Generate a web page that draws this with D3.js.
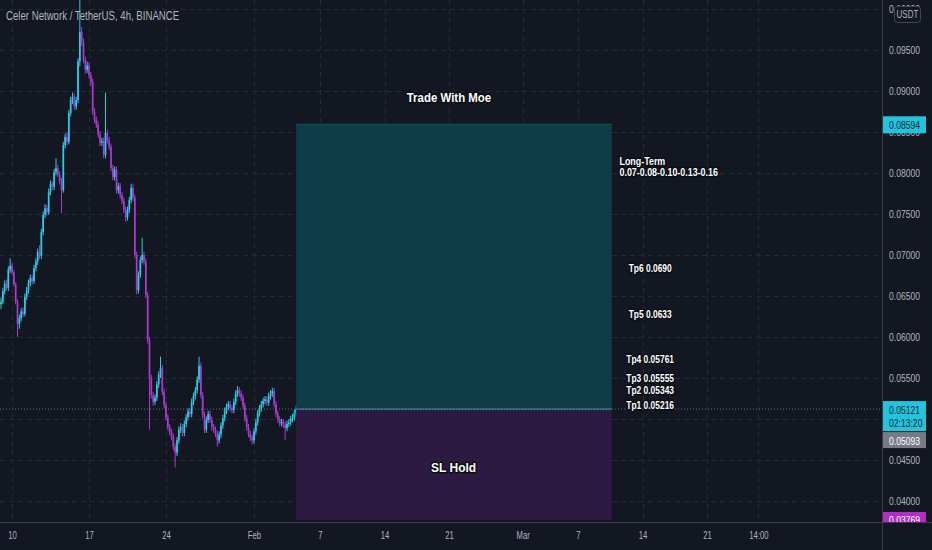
<!DOCTYPE html>
<html>
<head>
<meta charset="utf-8">
<script src="https://cdn.jsdelivr.net/npm/d3@7"></script>
<style>
  body { margin: 0; background: #131722; }
  svg { display: block; }
  text { font-family: "Liberation Sans", Arial, sans-serif; }
</style>
</head>
<body>
<svg id="chart"></svg>
<script>
// chart data (4h candles, open = previous close)
const firstOpen = 0.0640;
const closes = [
  0.0643,0.0656,0.0665,0.0660,0.0682,0.0687,0.0679,0.0664,0.0643,0.0616,
  0.0623,0.0631,0.0628,0.0649,0.0657,0.0666,0.0672,0.0668,0.0684,0.0692,
  0.0704,0.0699,0.0728,0.0749,0.0757,0.0752,0.0777,0.0787,0.0783,0.0801,
  0.0806,0.0798,0.0790,0.0779,0.0834,0.0844,0.0838,0.0873,0.0889,0.0893,
  0.0881,0.0889,0.0936,0.0972,0.0960,0.0938,0.0926,0.0931,0.0919,0.0911,
  0.0875,0.0865,0.0859,0.0847,0.0837,0.0839,0.0822,0.0849,0.0840,0.0832,
  0.0806,0.0795,0.0804,0.0779,0.0784,0.0773,0.0766,0.0755,0.0746,0.0755,
  0.0767,0.0782,0.0770,0.0700,0.0657,0.0676,0.0694,0.0700,0.0692,0.0651,
  0.0596,0.0550,0.0529,0.0521,0.0526,0.0542,0.0554,0.0562,0.0533,0.0517,
  0.0502,0.0490,0.0484,0.0478,0.0466,0.0459,0.0474,0.0487,0.0490,0.0483,
  0.0494,0.0502,0.0509,0.0506,0.0521,0.0528,0.0535,0.0548,0.0565,0.0529,
  0.0505,0.0487,0.0499,0.0506,0.0499,0.0490,0.0487,0.0482,0.0474,0.0481,
  0.0492,0.0501,0.0510,0.0515,0.0518,0.0513,0.0511,0.0521,0.0531,0.0535,
  0.0531,0.0526,0.0516,0.0501,0.0490,0.0482,0.0477,0.0474,0.0485,0.0496,
  0.0507,0.0513,0.0518,0.0522,0.0524,0.0520,0.0528,0.0531,0.0534,0.0518,
  0.0506,0.0499,0.0495,0.0496,0.0493,0.0489,0.0494,0.0496,0.0500,0.0502,
  0.0507,0.05121
];
const highs = [
  0.0648,0.0660,0.0669,0.0670,0.0686,0.0696,0.0690,0.0682,0.0667,0.0646,
  0.0627,0.0635,0.0636,0.0653,0.0661,0.0670,0.0676,0.0676,0.0688,0.0696,
  0.0708,0.0712,0.0732,0.0753,0.0762,0.0761,0.0781,0.0791,0.0790,0.0805,
  0.0818,0.0810,0.0802,0.0794,0.0838,0.0848,0.0850,0.0877,0.0893,0.0898,
  0.0897,0.0893,0.0940,0.1011,0.0978,0.0964,0.0942,0.0936,0.0935,0.0923,
  0.0915,0.0879,0.0869,0.0863,0.0851,0.0843,0.0843,0.0898,0.0853,0.0844,
  0.0836,0.0810,0.0808,0.0808,0.0788,0.0788,0.0777,0.0770,0.0759,0.0759,
  0.0771,0.0787,0.0786,0.0774,0.0704,0.0680,0.0698,0.0721,0.0704,0.0696,
  0.0655,0.0600,0.0554,0.0533,0.0530,0.0546,0.0558,0.0576,0.0566,0.0537,
  0.0521,0.0506,0.0494,0.0488,0.0482,0.0470,0.0478,0.0491,0.0495,0.0494,
  0.0498,0.0506,0.0513,0.0513,0.0525,0.0532,0.0539,0.0552,0.0576,0.0569,
  0.0533,0.0509,0.0503,0.0510,0.0510,0.0503,0.0494,0.0491,0.0486,0.0485,
  0.0496,0.0505,0.0514,0.0519,0.0522,0.0522,0.0517,0.0525,0.0535,0.0540,
  0.0539,0.0535,0.0530,0.0520,0.0505,0.0494,0.0486,0.0481,0.0489,0.0500,
  0.0511,0.0517,0.0522,0.0526,0.0528,0.0528,0.0532,0.0535,0.0538,0.0538,
  0.0522,0.0510,0.0503,0.0500,0.0500,0.0497,0.0498,0.0500,0.0504,0.0506,
  0.0511,0.0516
];
const lows = [
  0.0634,0.0640,0.0652,0.0657,0.0656,0.0678,0.0676,0.0661,0.0640,0.0600,
  0.0610,0.0619,0.0624,0.0625,0.0645,0.0653,0.0662,0.0664,0.0665,0.0680,
  0.0688,0.0695,0.0695,0.0724,0.0745,0.0748,0.0749,0.0773,0.0779,0.0779,
  0.0797,0.0795,0.0786,0.0751,0.0776,0.0830,0.0834,0.0835,0.0869,0.0884,
  0.0877,0.0877,0.0885,0.0930,0.0955,0.0934,0.0921,0.0922,0.0915,0.0906,
  0.0871,0.0861,0.0855,0.0843,0.0833,0.0833,0.0818,0.0818,0.0836,0.0828,
  0.0802,0.0791,0.0791,0.0775,0.0775,0.0769,0.0762,0.0751,0.0741,0.0742,
  0.0751,0.0763,0.0766,0.0696,0.0652,0.0653,0.0672,0.0690,0.0688,0.0647,
  0.0592,0.0487,0.0525,0.0516,0.0517,0.0522,0.0538,0.0550,0.0529,0.0513,
  0.0498,0.0486,0.0480,0.0474,0.0462,0.0441,0.0455,0.0470,0.0483,0.0479,
  0.0479,0.0490,0.0498,0.0502,0.0502,0.0517,0.0524,0.0531,0.0544,0.0525,
  0.0501,0.0483,0.0483,0.0495,0.0495,0.0486,0.0483,0.0478,0.0466,0.0470,
  0.0477,0.0488,0.0497,0.0506,0.0511,0.0509,0.0507,0.0507,0.0517,0.0527,
  0.0527,0.0522,0.0512,0.0497,0.0486,0.0478,0.0473,0.0469,0.0470,0.0481,
  0.0492,0.0503,0.0509,0.0514,0.0518,0.0516,0.0516,0.0524,0.0527,0.0514,
  0.0502,0.0495,0.0491,0.0491,0.0489,0.0474,0.0485,0.0490,0.0492,0.0496,
  0.0498,0.0503
];
const firstBar = new Date(2022, 0, 9, 0);
const barHours = 4;

// axis ticks
const priceTicks = [0.040,0.045,0.050,0.055,0.060,0.065,0.070,0.075,0.080,0.085,0.090,0.095,0.100];
const hiddenTicks = [0.050]; // sits under the last price tag
const dateTicks = [
  new Date(2022,0,10), new Date(2022,0,17), new Date(2022,0,24), new Date(2022,1,1),
  new Date(2022,1,7), new Date(2022,1,14), new Date(2022,1,21), new Date(2022,2,1),
  new Date(2022,2,7), new Date(2022,2,14), new Date(2022,2,21), new Date(2022,2,26,14)
];
const dateLabels = ["10","17","24","Feb","7","14","21","Mar","7","14","21","14:00"];

// long position tool
const entryPrice = 0.05121;
const targetPrice = 0.08594;
const stopPrice = 0.03769;
const positionEnd = new Date(2022, 2, 10, 16);
const lastBarCountdown = "02:13:20";
const markedPrice = 0.05093;

// text notes
const tpNames = ["Tp6 0.0690","Tp5 0.0633","Tp4 0.05761","Tp3 0.05555","Tp2 0.05343","Tp1 0.05216"];
const tpAnchors = [0.0684, 0.0628, 0.0572, 0.0549, 0.0535, 0.0517];
const tpDate = new Date(2022, 2, 14, 20);
const longTerm = ["Long-Term", "0.07-0.08-0.10-0.13-0.16"];
const longTermAnchor = [new Date(2022, 2, 11, 12), 0.0814];
const titleNote = ["Trade With Moe", new Date(2022, 1, 21, 0), 0.0892];
const slNote = ["SL Hold", new Date(2022, 1, 21, 12), 0.0441];

// layout
const W = 932, H = 550;
const plotW = 882, plotH = 522;
const bg = "#131722", upColor = "#29cde4", downColor = "#a93bcc", textColor = "#b2b5be";
const fmt = d3.format(".5f");

// horizontally narrow a text, the chart's own font is a condensed one
function squeeze(sel, f) {
  sel.each(function () {
    const w = this.getComputedTextLength();
    d3.select(this).attr("textLength", w * f).attr("lengthAdjust", "spacingAndGlyphs");
  });
  return sel;
}

const svg = d3.select("#chart").attr("width", W).attr("height", H);
svg.append("rect").attr("width", W).attr("height", H).attr("fill", bg);

// scales: time is compressed differently before/after the last candle, as on the picture
const x = d3.scaleTime()
  .domain([dateTicks[0], dateTicks[4], dateTicks[10]])
  .range([12, 320, 707]);
const y = d3.scaleLinear()
  .domain([0.05, 0.095])
  .range([419, 50]);

const candles = closes.map((c, i) => ({
  t: d3.timeHour.offset(firstBar, i * barHours),
  o: i === 0 ? firstOpen : closes[i - 1],
  h: highs[i], l: lows[i], c: c
}));

svg.append("clipPath").attr("id", "clip")
  .append("rect").attr("width", plotW).attr("height", plotH);
const inner = svg.append("g").attr("clip-path", "url(#clip)");

// grid
inner.append("g").selectAll("line").data(priceTicks).join("line")
  .attr("x1", 0).attr("x2", plotW)
  .attr("y1", d => Math.round(y(d)) + 0.5).attr("y2", d => Math.round(y(d)) + 0.5)
  .attr("stroke", "#252935").attr("stroke-dasharray", "5,4");
inner.append("g").selectAll("line").data(dateTicks).join("line")
  .attr("x1", d => Math.round(x(d)) + 0.5).attr("x2", d => Math.round(x(d)) + 0.5)
  .attr("y1", 0).attr("y2", plotH)
  .attr("stroke", "#252935").attr("stroke-dasharray", "5,4");

// candles
const cg = inner.append("g");
cg.selectAll("line").data(candles).join("line")
  .attr("x1", d => x(d.t)).attr("x2", d => x(d.t))
  .attr("y1", d => y(d.h)).attr("y2", d => y(d.l))
  .attr("stroke", d => d.c >= d.o ? upColor : downColor)
  .attr("stroke-width", 1);
cg.selectAll("rect").data(candles).join("rect")
  .attr("x", d => x(d.t) - 0.85)
  .attr("width", 1.7)
  .attr("y", d => y(Math.max(d.o, d.c)))
  .attr("height", d => Math.max(1, Math.abs(y(d.o) - y(d.c))))
  .attr("fill", d => d.c >= d.o ? upColor : downColor);

// position box
const x0 = x(candles[candles.length - 1].t), x1 = x(positionEnd);
inner.append("rect")
  .attr("x", x0).attr("width", x1 - x0)
  .attr("y", y(targetPrice)).attr("height", y(entryPrice) - y(targetPrice))
  .attr("fill", "#0e3c47");
inner.append("rect")
  .attr("x", x0).attr("width", x1 - x0)
  .attr("y", y(entryPrice)).attr("height", y(stopPrice) - y(entryPrice))
  .attr("fill", "#2c1a42");
inner.append("line")
  .attr("x1", x0).attr("x2", x1)
  .attr("y1", y(targetPrice)).attr("y2", y(targetPrice))
  .attr("stroke", "#155664");
inner.append("line")
  .attr("x1", x0).attr("x2", x1)
  .attr("y1", y(entryPrice)).attr("y2", y(entryPrice))
  .attr("stroke", "#2b8593").attr("stroke-width", 1.2);

// last price dotted line
inner.append("line")
  .attr("x1", 0).attr("x2", plotW)
  .attr("y1", y(entryPrice)).attr("y2", y(entryPrice))
  .attr("stroke", "#8d929c").attr("stroke-opacity", 0.7)
  .attr("stroke-dasharray", "1,2");

// text notes
function note(txt, px, py, anchor, size) {
  return inner.append("text")
    .attr("x", px).attr("y", py)
    .attr("dy", "0.35em")
    .attr("text-anchor", anchor)
    .attr("fill", "#ffffff")
    .attr("font-weight", "bold")
    .attr("font-size", size)
    .attr("stroke", "#0b0e15").attr("stroke-width", 3)
    .attr("stroke-linejoin", "round")
    .attr("paint-order", "stroke")
    .text(txt);
}
squeeze(note(titleNote[0], x(titleNote[1]), y(titleNote[2]), "middle", 13), 0.88);
squeeze(note(slNote[0], x(slNote[1]), y(slNote[2]), "middle", 13), 0.92);
tpNames.forEach((t, i) => squeeze(note(t, x(tpDate), y(tpAnchors[i]), "middle", 10), 0.84));
longTerm.forEach((t, i) => squeeze(note(t, x(longTermAnchor[0]), y(longTermAnchor[1]) + i * 11, "start", 10), 0.89));

// symbol title
squeeze(svg.append("text")
  .attr("x", 6).attr("y", 20)
  .attr("fill", textColor)
  .attr("font-size", 12.5)
  .text("Celer Network / TetherUS, 4h, BINANCE"), 0.77);

// price axis
const yAxis = svg.append("g")
  .attr("transform", `translate(${plotW},0)`)
  .call(d3.axisRight(y).tickValues(priceTicks).tickFormat(fmt).tickSize(0).tickPadding(7));
yAxis.select(".domain").remove();
yAxis.attr("font-family", null);
yAxis.selectAll(".tick").filter(d => hiddenTicks.includes(d)).select("text").remove();
squeeze(yAxis.selectAll("text").attr("fill", textColor).attr("font-size", 11), 0.78);

// time axis
const xAxis = svg.append("g")
  .attr("transform", `translate(0,${plotH})`)
  .call(d3.axisBottom(x).tickValues(dateTicks).tickFormat((d, i) => dateLabels[i]).tickSize(0).tickPadding(9));
xAxis.select(".domain").attr("stroke", "#3a3e4a").attr("d", `M0,0.5H${plotW}`);
xAxis.attr("font-family", null);
squeeze(xAxis.selectAll("text").attr("fill", textColor).attr("font-size", 11), 0.7);
svg.append("line")
  .attr("x1", plotW + 0.5).attr("x2", plotW + 0.5).attr("y1", 0).attr("y2", H)
  .attr("stroke", "#3a3e4a");

// price labels on the axis
function priceTag(top, fill, color, lines, h) {
  const g = svg.append("g");
  g.append("rect").attr("x", plotW + 1).attr("y", top).attr("width", 43).attr("height", h).attr("fill", fill);
  lines.forEach((s, i) => squeeze(g.append("text")
    .attr("x", plotW + 7).attr("y", top + 12.5 + i * 13)
    .attr("fill", color).attr("font-size", 11).text(s), 0.78));
  return g;
}
const entryTop = y(entryPrice) - 8;
priceTag(y(targetPrice) - 8, "#22c3dc", "#0f2a33", [fmt(targetPrice)], 17);
priceTag(entryTop, "#22c3dc", "#0f2a33", [fmt(entryPrice), lastBarCountdown], 30);
priceTag(entryTop + 31, "#787b86", "#ffffff", [fmt(markedPrice)], 16);
priceTag(y(stopPrice) - 8, "#b02fc4", "#ffffff", [fmt(stopPrice)], 12);
svg.append("rect").attr("x", plotW + 1).attr("y", plotH).attr("width", W - plotW).attr("height", H - plotH).attr("fill", bg);
svg.append("line")
  .attr("x1", plotW).attr("x2", W).attr("y1", plotH + 0.5).attr("y2", plotH + 0.5)
  .attr("stroke", "#3a3e4a");

// currency badge
svg.append("rect").attr("x", 894.5).attr("y", 6.5).attr("width", 26).attr("height", 16).attr("rx", 3)
  .attr("fill", bg).attr("stroke", "#434651");
squeeze(svg.append("text")
  .attr("x", 907.5).attr("y", 18).attr("text-anchor", "middle")
  .attr("fill", textColor).attr("font-size", 10).text("USDT"), 0.8);
</script>
</body>
</html>
